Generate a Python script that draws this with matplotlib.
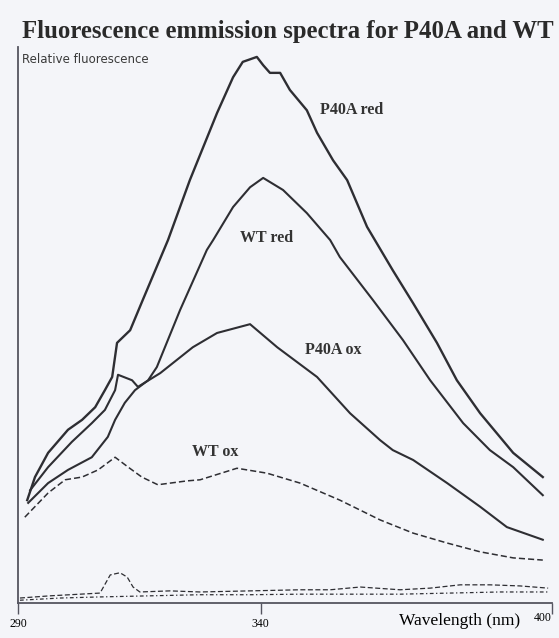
import matplotlib.pyplot as plt

# Emission spectra (wavelength in nm, relative units)
p40a_red_nm = [291.9, 293.5, 296.2, 300.3, 303.2, 305.9, 307.9, 309.4, 310.4, 313.1,
               315.7, 320.9, 325.4, 331.0, 334.3, 336.3, 339.2, 340.5, 341.9, 344.0,
               346.0, 349.5, 351.6, 354.9, 357.8, 361.9, 367.2, 371.4, 376.3, 380.4,
               385.2, 392.0, 398.1]
p40a_red = [18.7, 22.9, 27.3, 31.5, 33.3, 35.6, 38.7, 41.1, 47.3, 49.6,
            55.1, 66.0, 76.9, 89.1, 95.6, 98.4, 99.3, 97.8, 96.4, 96.4,
            93.3, 89.6, 85.5, 80.5, 76.9, 68.4, 60.5, 54.5, 47.3, 40.5,
            34.5, 27.3, 22.9]

wt_red_nm = [292.1, 296.2, 300.3, 305.2, 308.5, 310.0, 312.0, 314.1, 316.8, 318.6,
             323.4, 328.9, 330.2, 334.3, 337.8, 340.5, 344.6, 349.5, 354.3, 356.3,
             363.1, 369.3, 374.9, 381.7, 387.2, 392.0, 398.1]
wt_red = [18.2, 21.8, 24.2, 26.5, 30.2, 33.3, 36.4, 38.7, 40.5, 42.9,
          53.3, 64.2, 66.0, 72.0, 75.6, 77.3, 75.1, 70.9, 66.0, 62.9,
          55.1, 47.8, 40.5, 32.7, 27.8, 24.7, 19.6]

p40a_ox_nm = [292.5, 296.2, 301.1, 305.2, 307.9, 310.0, 310.6, 313.5, 314.7, 319.3,
              326.0, 331.0, 337.8, 343.4, 351.6, 358.4, 364.6, 367.2, 371.4, 378.4,
              385.2, 390.7, 398.1]
p40a_ox = [20.5, 24.7, 29.3, 32.7, 35.1, 38.7, 41.5, 40.5, 39.3, 41.8,
           46.5, 49.1, 50.7, 46.5, 41.1, 34.5, 29.6, 27.8, 26.0, 21.8,
           17.5, 13.8, 11.5]

wt_ox_nm = [291.4, 296.2, 299.7, 303.2, 306.5, 310.0, 312.7, 315.5, 318.8, 324.8,
            327.5, 335.1, 341.3, 348.1, 356.3, 364.6, 371.4, 378.4, 385.2, 392.0, 398.1]
wt_ox = [15.6, 20.0, 22.4, 22.9, 24.2, 26.5, 24.7, 22.9, 21.5, 22.2,
         22.4, 24.5, 23.6, 21.8, 18.7, 15.1, 12.7, 10.9, 9.3, 8.2, 7.8]

# buffer baselines
base1_nm = [290.4, 296.6, 302.8, 306.9, 309.0, 311.0, 312.5, 313.7, 315.1, 321.3,
            327.5, 337.8, 348.1, 354.3, 360.5, 368.7, 374.9, 381.1, 387.2, 393.4, 399.2]
base1 = [0.9, 1.3, 1.6, 1.8, 5.1, 5.5, 4.7, 2.9, 2.0, 2.2,
         2.0, 2.2, 2.4, 2.4, 2.9, 2.4, 2.7, 3.3, 3.3, 3.1, 2.7]
base2_nm = [290.4, 298.7, 306.9, 317.2, 327.5, 337.8, 348.1, 358.4, 368.7, 379.0, 389.3, 399.2]
base2 = [0.5, 0.9, 1.1, 1.3, 1.5, 1.5, 1.6, 1.6, 1.6, 1.8, 2.0, 2.0]

xticks = [290, 340, 400]

ink = '#2e2e33'
bg = '#f4f5f9'

fig = plt.figure(figsize=(5.59, 6.38), dpi=100, facecolor=bg)
ax = fig.add_axes([0.0322, 0.0549, 0.9553, 0.8714], facecolor=bg)

ax.plot(p40a_red_nm, p40a_red, color=ink, lw=1.7)
ax.plot(wt_red_nm, wt_red, color=ink, lw=1.5)
ax.plot(p40a_ox_nm, p40a_ox, color=ink, lw=1.5)
ax.plot(wt_ox_nm, wt_ox, color=ink, lw=1.1, ls=(0, (4, 2)))
ax.plot(base1_nm, base1, color=ink, lw=0.9, ls=(0, (4, 2)))
ax.plot(base2_nm, base2, color=ink, lw=0.9, ls=(0, (3, 2, 1, 2)))

ax.set_xlim(290, 400)
ax.set_ylim(0, 101.1)
for s in ['top', 'right']:
    ax.spines[s].set_visible(False)
for s in ['left', 'bottom']:
    ax.spines[s].set_color('#555560')
    ax.spines[s].set_linewidth(1.3)

ax.set_xticks(xticks)
ax.set_xticklabels([str(t) for t in xticks], family='Liberation Serif', fontsize=8.5)
ax.tick_params(axis='x', direction='out', length=8, width=1, color='#555560', pad=3)
# last label sits just inside the right edge, a little raised
last = ax.get_xticklabels()[-1]
last.set_horizontalalignment('right')
last.set_y(0.012)
ax.set_yticks([])

ax.set_xlabel('Wavelength (nm)', family='Liberation Serif', fontsize=12.5)
ax.xaxis.set_label_coords(0.826, -0.018)

ax.text(0.0075, 0.978, 'Relative fluorescence', transform=ax.transAxes,
        family='DejaVu Sans', fontsize=8.5, va='center', ha='left', color='#3a3a3a')

lab = dict(family='Liberation Serif', fontsize=11.5, fontweight='bold', va='center', color='#333')
ax.text(352.2, 89.6, 'P40A red', **lab)
ax.text(335.7, 66.4, 'WT red', **lab)
ax.text(349.1, 46.0, 'P40A ox', **lab)
ax.text(325.8, 27.5, 'WT ox', **lab)

fig.text(22 / 559, 1 - 38 / 638, 'Fluorescence emmission spectra for P40A and WT',
         family='Liberation Serif', fontsize=17.8, fontweight='bold', color='#2a2a2a',
         ha='left', va='baseline')

fig.savefig('out.png', dpi=100, facecolor=bg)
